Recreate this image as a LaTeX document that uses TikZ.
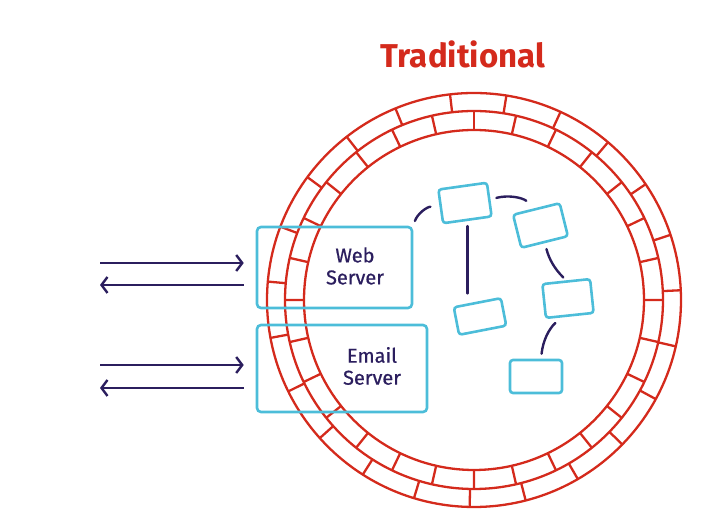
\documentclass[tikz,border=0pt]{standalone}
\usepackage{fontspec}
\setmainfont{Fira Sans}
\setsansfont{Fira Sans}
\newfontfamily\medfont{Fira Sans}[FakeBold=0.7]
\usepackage{tikz}
\usetikzlibrary{arrows.meta, positioning, calc}
\definecolor{wallred}{HTML}{D42A1C}
\definecolor{srvblue}{HTML}{4CBDD9}
\definecolor{inkblue}{HTML}{2B1E5E}

\begin{document}
\begin{tikzpicture}[x=1pt, y=1pt, every node/.style={font=\sffamily}]
\tikzstyle{brick}=[draw=wallred, line width=2.3pt]
\tikzstyle{srvbox}=[rectangle, rounded corners=4pt, draw=srvblue, line width=2.6pt]
\tikzstyle{srvtext}=[align=center, text=inkblue, font=\medfont\fontsize{20}{22}\selectfont]
\tikzstyle{app}=[rectangle, rounded corners=3pt, draw=srvblue, line width=2.6pt]
\tikzstyle{flow}=[draw=inkblue, line width=2.4pt, -{Straight Barb[length=6pt, width=16pt]}]
\tikzstyle{link}=[draw=inkblue, line width=2.4pt, line cap=round]
\useasboundingbox (0,0) rectangle (702,529);

\node[font=\sffamily\bfseries\fontsize{33}{36}\selectfont, text=wallred, anchor=base] (title) at (463,461) {Traditional};

% the wall
\begin{scope}[shift={(474,229)}]
\draw[brick] (0,0) circle (207);
\draw[brick] (0,0) circle (189);
\draw[brick] (0,0) circle (170);
\foreach \a in {0,...,22}
  \draw[brick] (81+\a*15.65:189) -- (81+\a*15.65:207);
\foreach \a in {0,...,27}
  \draw[brick] (90+\a*12.857:170) -- (90+\a*12.857:189);
\end{scope}

% servers on the edge
\node[srvbox, minimum width=155pt, minimum height=81pt] (web) at (334.5,261.5) {};
\node[srvbox, minimum width=170pt, minimum height=87pt] (email) at (342,160.5) {};
\node[srvtext] (weblabel) at (355,263) {Web\\Server};
\node[srvtext] (emaillabel) at (372,163) {Email\\Server};

\coordinate (webin) at (100,266);
\coordinate (webout) at (100,244);
\coordinate (emailin) at (100,164);
\coordinate (emailout) at (100,141);
\draw[flow, shorten >=12pt] (webin) -- (webin -| web.west);
\draw[flow, shorten <=12pt] (webout -| web.west) -- (webout);
\draw[flow, shorten >=12pt] (emailin) -- (emailin -| email.west);
\draw[flow, shorten <=12pt] (emailout -| email.west) -- (emailout);

% inside the wall
\node[app, minimum width=49pt, minimum height=34pt, rotate=8] (app1) at (465,326) {};
\node[app, minimum width=48pt, minimum height=34pt, rotate=14] (app2) at (540.5,303.5) {};
\node[app, minimum width=48pt, minimum height=34pt, rotate=6] (app3) at (568,230.5) {};
\node[app, minimum width=48pt, minimum height=28pt, rotate=11] (app4) at (480,212.5) {};
\node[app, minimum width=52pt, minimum height=33pt] (app5) at (536,152.5) {};

\draw[link, shorten <=5pt, shorten >=9pt] (web.north east) to[bend left=35] (app1.west);
\draw[link, shorten <=6pt, shorten >=12pt] (app1.east) to[bend left=25] (app2.north);
\draw[link, shorten <=5pt, shorten >=8pt] (app1.south) -- (app1.south |- app4.north);
\draw[link, shorten <=6pt, shorten >=4pt] (app2.south) to[bend right=15] (app3.north);
\draw[link, shorten <=9pt, shorten >=5pt] ([xshift=-8pt]app3.south) to[bend right=20] ([xshift=5pt]app5.north);
\end{tikzpicture}
\end{document}
